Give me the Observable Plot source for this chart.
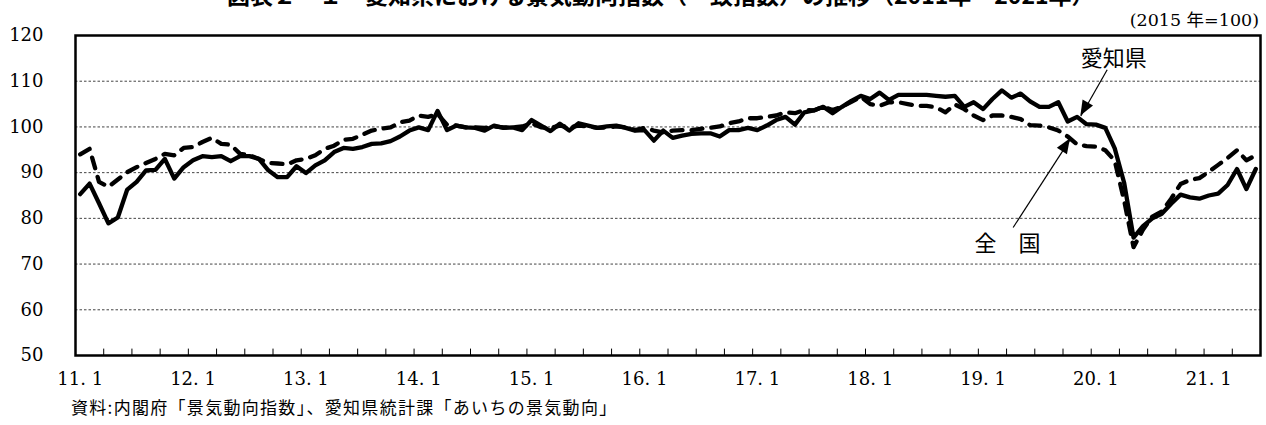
<!DOCTYPE html>
<html><head><meta charset="utf-8">
<script src="https://cdn.jsdelivr.net/npm/d3@7"></script>
<script src="https://cdn.jsdelivr.net/npm/@observablehq/plot@0.6"></script>
<style>
html,body{margin:0;padding:0;background:#fff;}
body{width:1266px;height:425px;position:relative;overflow:hidden;}
#title{position:absolute;left:227px;top:-17px;font:bold 23px/23px "Noto Sans CJK JP",sans-serif;white-space:nowrap;color:#000;}
#unit{position:absolute;right:7px;top:10px;font:17.5px/20px "DejaVu Serif","Noto Sans CJK JP",serif;color:#000;white-space:nowrap;}
#source{position:absolute;left:71px;top:397px;font:17px/20px "Noto Sans CJK JP",sans-serif;letter-spacing:1.3px;color:#000;white-space:nowrap;}
#chart{position:absolute;left:0;top:0;}
</style></head>
<body>
<div id="title">図表２－１　愛知県における景気動向指数（一致指数）の推移（2011年～2021年）</div>
<div id="unit">(2015 年=100)</div>
<div id="chart"></div>
<div id="source">資料:内閣府「景気動向指数」、愛知県統計課「あいちの景気動向」</div>
<script>
// Monthly series, Jan 2011 .. Jun 2021 (2015=100)
const aichi = [
  85.3, 87.6, 83.3, 78.9, 80.2, 86.3, 88.0, 90.5, 90.6, 93.0, 88.7, 91.2,
  92.7, 93.6, 93.4, 93.6, 92.5, 93.6, 93.6, 93.0, 90.5, 89.0, 89.0, 91.4,
  89.9, 91.6, 92.7, 94.5, 95.4, 95.2, 95.6, 96.3, 96.4, 96.9, 97.9, 99.2,
  99.9, 99.3, 103.5, 99.3, 100.3, 99.9, 99.8, 99.2, 100.3, 99.8, 99.9, 99.3,
  101.5, 100.3, 99.1, 100.7, 99.2, 100.8, 100.3, 99.8, 100.1, 100.3, 99.8, 99.2,
  99.3, 97.0, 99.2, 97.6, 98.1, 98.5, 98.6, 98.6, 97.9, 99.3, 99.3, 99.8,
  99.3, 100.3, 101.5, 102.2, 100.5, 103.2, 103.6, 104.4, 103.0, 104.4, 105.7, 106.8,
  106.1, 107.5, 105.9, 107.0, 107.0, 107.0, 107.0, 106.8, 106.6, 106.8, 104.4, 105.4,
  103.9, 106.1, 108.0, 106.4, 107.3, 105.6, 104.4, 104.4, 105.4, 101.2, 102.2, 100.6,
  100.5, 99.8, 95.3, 87.8, 75.8, 78.3, 80.0, 81.0, 83.2, 85.2, 84.6, 84.3,
  85.0, 85.4, 87.3, 90.8, 86.4, 90.8
];
const zenkoku = [
  94.0, 95.2, 88.0, 86.9, 88.5, 90.1, 91.2, 92.1, 93.0, 94.1, 93.8, 95.4,
  95.6, 96.7, 97.6, 96.3, 96.1, 94.1, 93.8, 93.0, 92.1, 92.0, 91.8, 92.7,
  93.0, 93.8, 95.2, 95.9, 97.2, 97.4, 98.3, 99.2, 99.6, 99.9, 101.0, 101.4,
  102.5, 102.2, 102.8, 100.5, 100.3, 99.9, 99.9, 99.8, 100.1, 99.9, 99.9, 100.1,
  100.8, 99.9, 99.8, 100.3, 99.9, 100.3, 100.1, 99.8, 99.9, 100.1, 99.9, 99.3,
  99.8, 99.2, 98.8, 99.2, 99.3, 99.3, 99.6, 99.8, 100.1, 100.8, 101.2, 101.9,
  101.9, 102.2, 102.5, 103.2, 103.0, 103.7, 103.6, 104.4, 103.7, 104.4, 105.5, 106.6,
  105.0, 104.6, 105.4, 105.4, 105.0, 104.6, 104.6, 104.3, 103.2, 104.9, 103.9, 102.5,
  101.5, 102.5, 102.5, 102.2, 101.7, 100.4, 100.3, 99.9, 99.2, 97.9, 96.2, 95.8,
  95.7, 94.9, 92.6, 83.9, 73.7, 77.5, 80.4, 81.5, 84.3, 87.5, 88.4, 88.8,
  90.2, 91.7, 93.2, 94.9, 92.7, 93.8
];
const yTicks = [50, 60, 70, 80, 90, 100, 110, 120];
const gridLines = [60, 70, 80, 90, 100, 110];
const xLabelMonths = [0, 12, 24, 36, 48, 60, 72, 84, 96, 108, 120];
const xLabels = ["11. 1","12. 1","13. 1","14. 1","15. 1","16. 1","17. 1","18. 1","19. 1","20. 1","21. 1"];
const quarterTicks = d3.range(2.5, 125, 3);

// annotations (month index, value)
const annoText = ["愛知県", "全　国"];
const annoTextPos = [[109.9, 114.9], [98.6, 74.5]];
const annoArrowFrom = [[109.2, 112.5], [99.2, 78.0]];
const annoArrowTo = [[106.4, 102.4], [105.3, 97.4]];

const rowsA = aichi.map((v, i) => ({i, v}));
const rowsN = zenkoku.map((v, i) => ({i, v}));
const annos = annoText.map((t, k) => ({t, x: annoTextPos[k][0], y: annoTextPos[k][1],
  x1: annoArrowFrom[k][0], y1: annoArrowFrom[k][1], x2: annoArrowTo[k][0], y2: annoArrowTo[k][1]}));

const chart = Plot.plot({
  width: 1266, height: 395,
  marginTop: 35, marginBottom: 40, marginLeft: 75, marginRight: 6,
  x: {domain: [-0.5, 125.5], axis: null},
  y: {domain: [50, 120], axis: null},
  style: {fontFamily: '"DejaVu Serif","Noto Sans CJK JP",serif', fontSize: "18px", color: "#000", background: "transparent"},
  marks: [
    Plot.ruleY(gridLines, {stroke: "#444", strokeWidth: 1, strokeDasharray: "2.5,2"}),
    Plot.axisY(yTicks, {tickSize: 0, tickPadding: 32, fontSize: 18, fill: "#000"}),
    Plot.axisX(xLabelMonths, {tickSize: 0, tickPadding: 17, fontSize: 18, fill: "#000",
      tickFormat: d => xLabels[xLabelMonths.indexOf(d)]}),
    Plot.ruleX(quarterTicks, {y1: 50, y2: 51.4, stroke: "#000", strokeWidth: 1}),
    Plot.line(rowsN, {x: "i", y: "v", stroke: "#000", strokeWidth: 4.3, strokeDasharray: "11,9", strokeLinecap: "round", strokeLinejoin: "round"}),
    Plot.line(rowsA, {x: "i", y: "v", stroke: "#000", strokeWidth: 4.3, strokeLinejoin: "round"}),
    Plot.link(annos, {x1: "x1", y1: "y1", x2: "x2", y2: "y2", stroke: "#000", strokeWidth: 1.2}),
    Plot.text(annos, {x: "x", y: "y", text: "t", fontFamily: '"Noto Sans CJK JP",sans-serif', fontSize: 22, fill: "#000"}),
    Plot.frame({stroke: "#000", strokeWidth: 2.5})
  ]
});
document.getElementById("chart").appendChild(chart);

// filled arrowheads at arrow tips, positioned with the chart's scales
const sx = chart.scale("x"), sy = chart.scale("y");
const svg = d3.select(chart);
annos.forEach(a => {
  const px1 = sx.apply(a.x1), py1 = sy.apply(a.y1);
  const px2 = sx.apply(a.x2), py2 = sy.apply(a.y2);
  const ang = Math.atan2(py2 - py1, px2 - px1);
  const L = 15, W = 6;
  const bx = px2 - L * Math.cos(ang), by = py2 - L * Math.sin(ang);
  const nx = -Math.sin(ang) * W, ny = Math.cos(ang) * W;
  svg.append("polygon")
    .attr("points", `${px2},${py2} ${bx + nx},${by + ny} ${bx - nx},${by - ny}`)
    .attr("fill", "#000");
});
</script>
</body></html>
